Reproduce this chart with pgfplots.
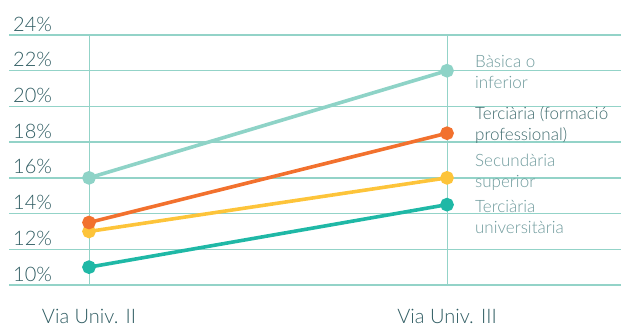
\documentclass[border=0pt]{standalone}
\usepackage{fontspec}
\setmainfont{Lato}[UprightFont={* Light}]
\usepackage{pgfplots}
\pgfplotsset{compat=1.18}
\definecolor{gridc}{HTML}{93D3C8}
\definecolor{ticktxt}{HTML}{2F5C62}
\definecolor{legtxt}{HTML}{6E9A9C}
\definecolor{legdark}{HTML}{3F6B6E}
\definecolor{cbas}{HTML}{8ED3C7}
\definecolor{cfp}{HTML}{F2712E}
\definecolor{csec}{HTML}{FDC43A}
\definecolor{cuni}{HTML}{1FB8A6}
\begin{document}
\begin{tikzpicture}
\begin{axis}[
  scale only axis, width=612pt, height=250pt,
  xmin=-0.2235, xmax=1.486, ymin=10, ymax=24,
  axis line style={draw=none},
  major tick length=0pt,
  xtick={0,1}, xticklabels={Via Univ. II, Via Univ. III},
  ytick={10,12,14,16,18,20,22,24},
  yticklabels={10\%,12\%,14\%,16\%,18\%,20\%,22\%,24\%},
  xmajorgrids, ymajorgrids,
  x grid style={gridc, line width=1pt},
  y grid style={gridc, line width=1.4pt},
  yticklabel style={anchor=base west, inner sep=0pt, xshift=4pt, yshift=4pt, font=\fontsize{20}{24}\selectfont, text=ticktxt},
  xticklabel style={anchor=base, inner sep=0pt, yshift=-38.5pt, font=\fontsize{20}{24}\selectfont, text=ticktxt},
  clip=false,
  every axis plot/.append style={line width=3.6pt, mark=*, mark size=5pt, mark options={line width=0pt}},
]
\coordinate (bl) at (rel axis cs:0,0);
\coordinate (tr) at (rel axis cs:1,1);
\addplot[color=cbas, mark options={fill=cbas, draw=cbas}] coordinates {(0,16) (1,22)};
\addplot[color=cuni, mark options={fill=cuni, draw=cuni}] coordinates {(0,11) (1,14.5)};
\addplot[color=csec, mark options={fill=csec, draw=csec}] coordinates {(0,13) (1,16)};
\addplot[color=cfp, mark options={fill=cfp, draw=cfp}] coordinates {(0,13.5) (1,18.5)};
\begin{scope}[every node/.style={anchor=west, align=left, inner sep=0pt, font=\fontsize{17}{20.5}\selectfont}]
\node[text=legtxt] at (axis cs:1.078,21.93) {Bàsica o\\inferior};
\node[text=legdark] at (axis cs:1.078,18.96) {Terciària (formació\\professional)};
\node[text=legtxt] at (axis cs:1.078,16.3) {Secundària\\superior};
\node[text=legtxt] at (axis cs:1.078,13.81) {Terciària\\universitària};
\end{scope}
\end{axis}
\pgfresetboundingbox
\path ([xshift=-9pt,yshift=-42pt]bl) rectangle ([yshift=35pt]tr);
\end{tikzpicture}
\end{document}
